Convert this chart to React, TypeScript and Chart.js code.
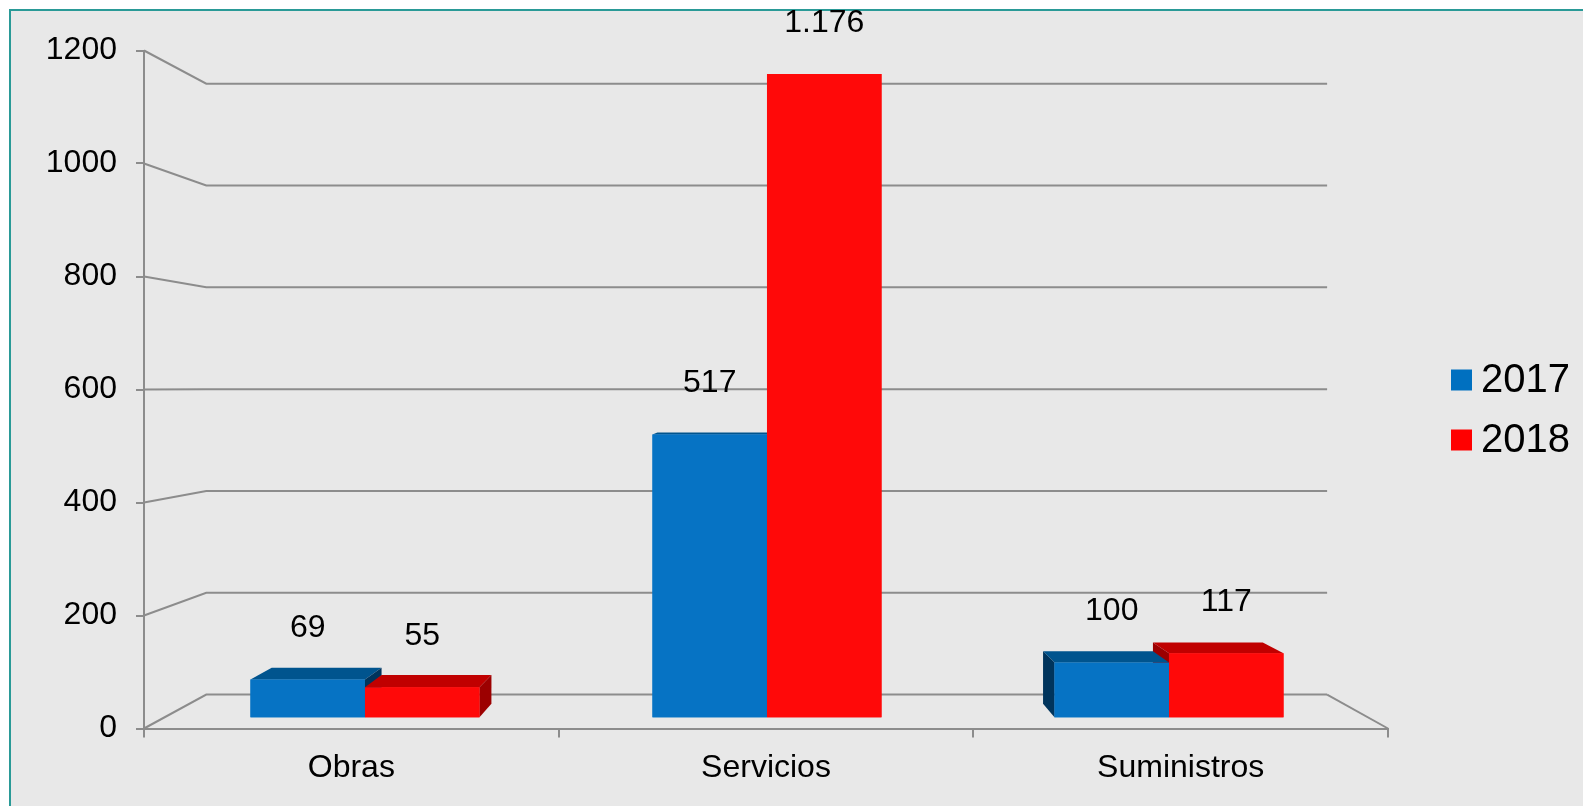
import React, { useEffect, useRef } from 'react';
import { Chart, registerables } from 'chart.js';

Chart.register(...registerables);

// ---------- data ----------
const categories = ['Obras', 'Servicios', 'Suministros'];
const seriesNames = ['2017', '2018'];
const values2017 = [69, 517, 100];
const values2018 = [55, 1176, 117];
const yTicks = [0, 200, 400, 600, 800, 1000, 1200];

// ---------- style ----------
const W = 1583;
const H = 806;
const FONT = "'Liberation Sans', Arial, Helvetica, sans-serif";
const GRID = '#8c8c8c';
const frontColors = ['#0673c4', '#ff0909'];
const topColors = ['#00548e', '#c00000'];
const sideColors = ['#00345c', '#9c0000'];
const legendColors = ['#0070c0', '#ff0000'];

// perspective (vanishing point and depth ratios)
const VP = { x: 773, y: 386 };
const WALL_K = 0.901;
const BAR_DEPTH_K = 0.9594;
const LABEL_GAP = 51;

const fmt = (v: number) => String(v).replace(/\B(?=(\d{3})+(?!\d))/g, '.');

const poly = (ctx: CanvasRenderingContext2D, pts: number[][], color: string) => {
  ctx.beginPath();
  ctx.moveTo(pts[0][0], pts[0][1]);
  for (let i = 1; i < pts.length; i++) ctx.lineTo(pts[i][0], pts[i][1]);
  ctx.closePath();
  ctx.fillStyle = color;
  ctx.fill();
};

const drawBox = (ctx: CanvasRenderingContext2D, el: any, d: number) => {
  const { x, y, base, width } = el.getProps(['x', 'y', 'base', 'width'], true);
  const x1 = x - width / 2;
  const x2 = x + width / 2;
  const top = Math.min(y, base);
  const bot = Math.max(y, base);
  const bk = (px: number, py: number) => [
    VP.x + (px - VP.x) * BAR_DEPTH_K,
    VP.y + (py - VP.y) * BAR_DEPTH_K,
  ];
  if (top > VP.y) poly(ctx, [[x1, top], [x2, top], bk(x2, top), bk(x1, top)], topColors[d]);
  if (x2 < VP.x) poly(ctx, [[x2, top], [x2, bot], bk(x2, bot), bk(x2, top)], sideColors[d]);
  if (x1 > VP.x) poly(ctx, [[x1, top], [x1, bot], bk(x1, bot), bk(x1, top)], sideColors[d]);
  ctx.fillStyle = frontColors[d];
  ctx.fillRect(x1, top, width, bot - top);
};

const threeD = {
  id: 'threeD',
  beforeDatasetsDraw(chart: any) {
    const ctx: CanvasRenderingContext2D = chart.ctx;
    const ys = chart.scales.y;
    const { left, right, bottom } = chart.chartArea;
    const back = (px: number, py: number) => ({
      x: VP.x + (px - VP.x) * WALL_K,
      y: VP.y + (py - VP.y) * WALL_K,
    });
    ctx.save();
    ctx.strokeStyle = GRID;
    ctx.lineWidth = 2;
    yTicks.forEach((v) => {
      const fy = ys.getPixelForValue(v);
      const bl = back(left, fy);
      const br = back(right, fy);
      ctx.beginPath();
      ctx.moveTo(left, fy);
      ctx.lineTo(bl.x, bl.y);
      ctx.lineTo(br.x, bl.y);
      ctx.stroke();
    });
    const fb = back(right, bottom);
    ctx.beginPath();
    ctx.moveTo(fb.x, fb.y);
    ctx.lineTo(right, bottom);
    ctx.stroke();
    ctx.restore();
  },
  afterDatasetsDraw(chart: any) {
    const ctx: CanvasRenderingContext2D = chart.ctx;
    const metas = [0, 1].map((i) => chart.getDatasetMeta(i));
    ctx.save();
    for (let c = 0; c < categories.length; c++) {
      const items = metas.map((m: any, d: number) => ({ el: m.data[c], d }));
      const cx = (items[0].el.x + items[1].el.x) / 2;
      if (cx > VP.x) items.reverse();
      items.forEach(({ el, d }) => drawBox(ctx, el, d));
    }
    // data labels
    ctx.fillStyle = '#000';
    ctx.font = `32px ${FONT}`;
    ctx.textAlign = 'center';
    ctx.textBaseline = 'middle';
    metas.forEach((m: any, d: number) => {
      const vals = chart.data.datasets[d].data;
      m.data.forEach((el: any, i: number) => {
        const { x, y, base } = el.getProps(['x', 'y', 'base'], true);
        ctx.fillText(fmt(vals[i].y), x, Math.min(y, base) - LABEL_GAP);
      });
    });
    ctx.restore();
  },
  afterDraw(chart: any) {
    const ctx: CanvasRenderingContext2D = chart.ctx;
    const box = 21;
    const lx = chart.chartArea.right + 63;
    const centerY = 410;
    const step = 60;
    ctx.save();
    ctx.font = `40px ${FONT}`;
    ctx.textAlign = 'left';
    ctx.textBaseline = 'middle';
    seriesNames.forEach((name, i) => {
      const cy = centerY + (i - 0.5) * step;
      ctx.fillStyle = legendColors[i];
      ctx.fillRect(lx, cy - box / 2, box, box);
      ctx.fillStyle = '#000';
      ctx.fillText(name, lx + box + 9, cy + 1);
    });
    ctx.restore();
  },
};

const tickFont = { family: FONT, size: 32 };

export default function App() {
  const ref = useRef<HTMLCanvasElement>(null);
  useEffect(() => {
    const chart = new Chart(ref.current as HTMLCanvasElement, {
      type: 'bar',
      data: {
        labels: categories,
        datasets: [values2017, values2018].map((vals, d) => ({
          label: seriesNames[d],
          data: vals.map((v, i) => ({ x: i, y: v })),
          backgroundColor: frontColors[d],
          borderWidth: 0,
          xAxisID: 'xb',
          yAxisID: 'yb',
          categoryPercentage: 0.5697,
          barPercentage: 1,
        })),
      },
      options: {
        responsive: false,
        animation: false,
        devicePixelRatio: 1,
        layout: { padding: { top: 50.5, right: 195, bottom: 0, left: 0 } },
        plugins: { legend: { display: false }, tooltip: { enabled: false } },
        scales: {
          x: {
            type: 'category',
            position: 'bottom',
            offset: true,
            grid: { offset: true, drawOnChartArea: false, drawTicks: true, tickLength: 9, color: GRID, lineWidth: 2 },
            border: { display: true, color: GRID, width: 2 },
            ticks: { font: tickFont, color: '#000', padding: 11, maxRotation: 0, autoSkip: false },
            afterFit: (s: any) => { s.height = H - 728.5; },
          },
          y: {
            type: 'linear',
            position: 'left',
            min: 0,
            max: 1200,
            afterBuildTicks: (s: any) => { s.ticks = yTicks.map((v) => ({ value: v })); },
            grid: { drawOnChartArea: false, drawTicks: true, tickLength: 8, color: GRID, lineWidth: 2 },
            border: { display: true, color: GRID, width: 2 },
            ticks: { font: tickFont, color: '#000', padding: 19, callback: (v: any) => String(v) },
            afterFit: (s: any) => { s.width = 144; },
          },
          xb: {
            type: 'linear',
            display: false,
            offset: false,
            min: -0.5497,
            max: 2.5448,
            afterBuildTicks: (s: any) => { s.ticks = categories.map((_, i) => ({ value: i })); },
          },
          yb: {
            type: 'linear',
            display: false,
            min: -20.47,
            max: 1218.97,
          },
        },
      } as any,
      plugins: [threeD],
    } as any);
    return () => chart.destroy();
  }, []);
  return (
    <>
      <div
        style={{
          position: 'fixed',
          left: 9,
          top: 9,
          width: 1600,
          height: 820,
          background: '#e8e8e8',
          borderTop: '2px solid #2a9a97',
          borderLeft: '2px solid #2a9a97',
        }}
      />
      <canvas
        ref={ref}
        width={W}
        height={H}
        style={{ position: 'fixed', left: 0, top: 0, width: W, height: H }}
      />
    </>
  );
}
